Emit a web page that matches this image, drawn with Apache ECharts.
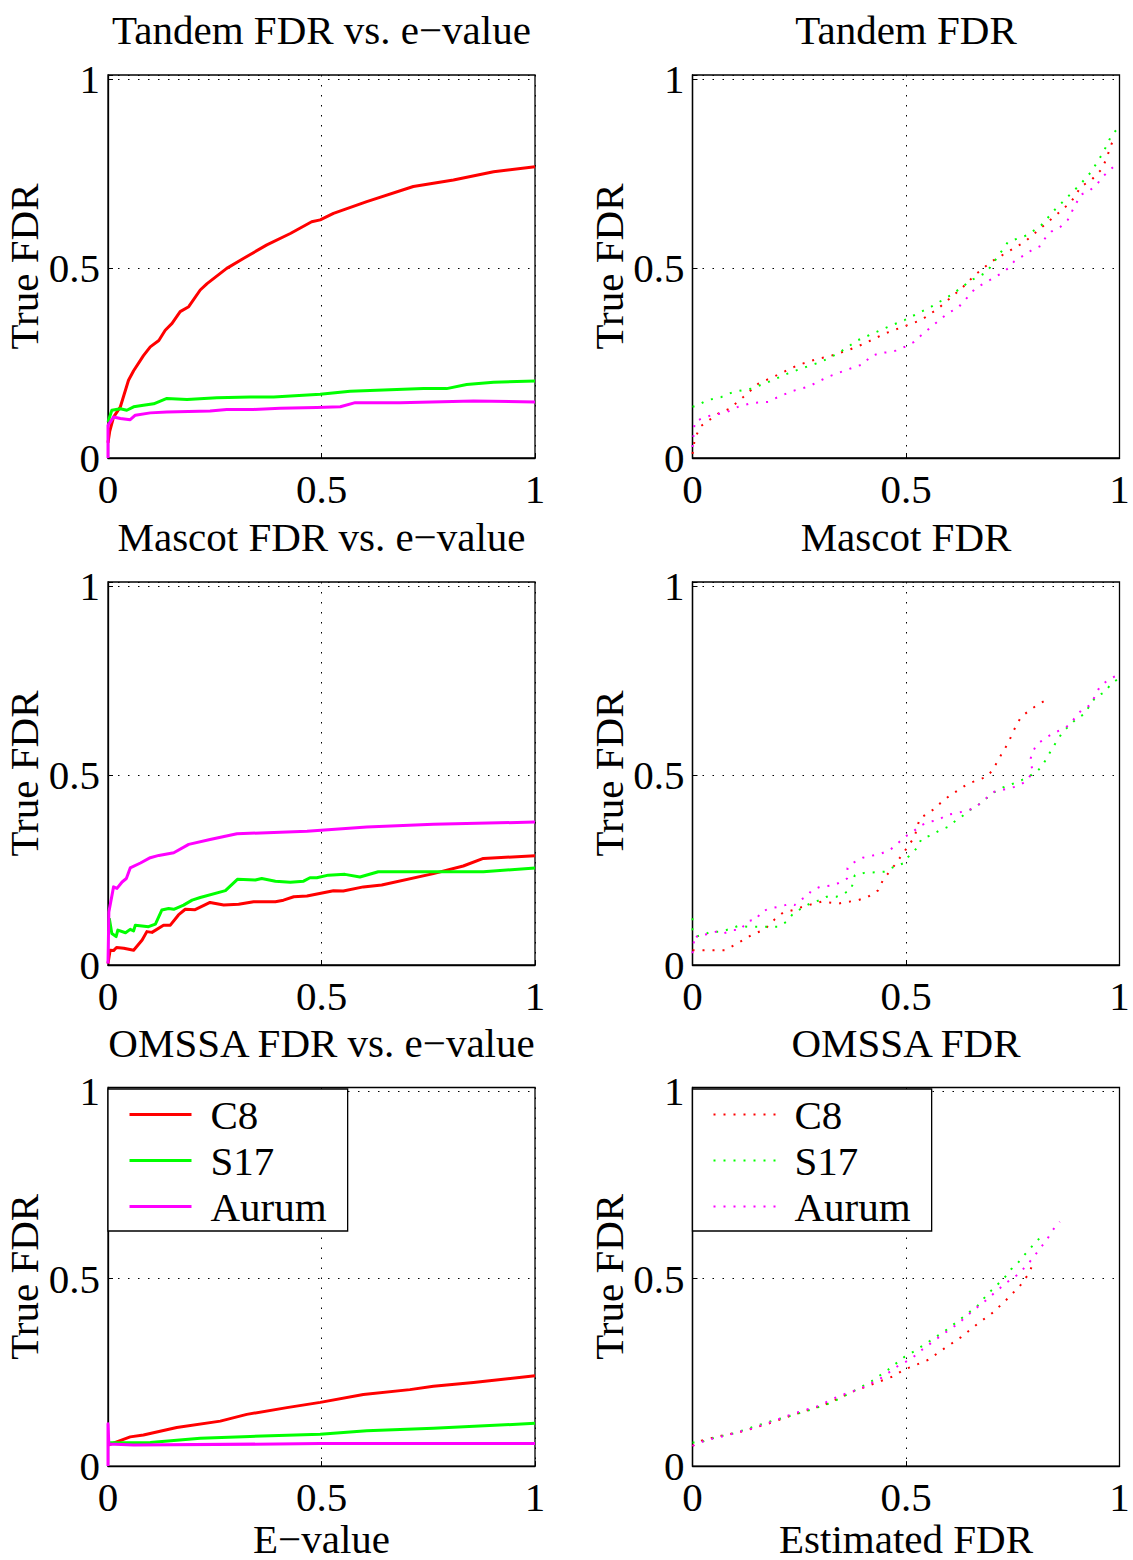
<!DOCTYPE html>
<html>
<head>
<meta charset="utf-8">
<script src="https://cdn.jsdelivr.net/npm/echarts@6/dist/echarts.min.js"></script>
<style>
html,body{margin:0;padding:0;background:#fff;}
#chart{width:1133px;height:1560px;}
</style>
</head>
<body>
<div id="chart"></div>
<script>
// ---------- DATA ----------
const seriesNames = ['C8', 'S17', 'Aurum'];
const panelTitles = ['Tandem FDR vs. e\u2212value', 'Tandem FDR', 'Mascot FDR vs. e\u2212value', 'Mascot FDR', 'OMSSA FDR vs. e\u2212value', 'OMSSA FDR'];
const xAxisNames = ['E\u2212value', 'Estimated FDR'];
const yAxisName = 'True FDR';
const tickLabels = ['0', '0.5', '1'];

// Tandem, true FDR vs e-value
const tandemEvC8 = [[0,0.04],[0.004,0.07],[0.013,0.108],[0.029,0.135],[0.048,0.205],[0.06,0.23],[0.083,0.27],[0.099,0.293],[0.119,0.31],[0.134,0.337],[0.15,0.355],[0.169,0.386],[0.189,0.399],[0.216,0.443],[0.232,0.46],[0.278,0.5],[0.317,0.526],[0.372,0.562],[0.427,0.592],[0.477,0.623],[0.497,0.628],[0.528,0.645],[0.606,0.676],[0.715,0.716],[0.809,0.733],[0.903,0.755],[1,0.768]];
const tandemEvS17 = [[0,0.095],[0.009,0.126],[0.029,0.13],[0.044,0.126],[0.06,0.135],[0.083,0.139],[0.107,0.143],[0.138,0.157],[0.185,0.154],[0.255,0.159],[0.333,0.161],[0.388,0.161],[0.497,0.168],[0.567,0.176],[0.645,0.179],[0.739,0.183],[0.793,0.183],[0.84,0.194],[0.903,0.2],[1,0.203]];
const tandemEvAurum = [[0,0],[0,0.086],[0.013,0.108],[0.029,0.104],[0.052,0.101],[0.064,0.113],[0.099,0.119],[0.138,0.121],[0.239,0.124],[0.278,0.128],[0.341,0.128],[0.403,0.131],[0.489,0.133],[0.544,0.135],[0.579,0.146],[0.684,0.146],[0.856,0.15],[1,0.148]];

// Tandem, true FDR vs estimated FDR
const tandemFdrC8 = [[0,0.011],[0.005,0.047],[0.017,0.082],[0.06,0.117],[0.087,0.13],[0.119,0.161],[0.154,0.196],[0.197,0.218],[0.247,0.245],[0.294,0.262],[0.317,0.267],[0.364,0.284],[0.403,0.302],[0.45,0.328],[0.493,0.346],[0.536,0.364],[0.575,0.394],[0.63,0.447],[0.661,0.482],[0.7,0.518],[0.739,0.544],[0.778,0.57],[0.801,0.592],[0.833,0.623],[0.852,0.641],[0.887,0.676],[0.91,0.716],[0.934,0.733],[0.957,0.76],[0.971,0.792],[0.977,0.817],[0.99,0.85]];
const tandemFdrS17 = [[0,0.135],[0.013,0.139],[0.033,0.152],[0.068,0.161],[0.095,0.174],[0.138,0.183],[0.177,0.2],[0.224,0.223],[0.255,0.236],[0.302,0.254],[0.341,0.276],[0.388,0.311],[0.458,0.346],[0.497,0.364],[0.559,0.399],[0.606,0.43],[0.653,0.469],[0.688,0.489],[0.715,0.531],[0.739,0.57],[0.785,0.588],[0.817,0.614],[0.848,0.654],[0.879,0.689],[0.91,0.724],[0.934,0.755],[0.961,0.804],[0.98,0.848],[0.996,0.87]];
const tandemFdrAurum = [[0,0.029],[0.005,0.095],[0.021,0.104],[0.048,0.114],[0.076,0.119],[0.107,0.135],[0.138,0.145],[0.177,0.148],[0.193,0.157],[0.232,0.176],[0.271,0.188],[0.317,0.214],[0.36,0.232],[0.403,0.249],[0.415,0.267],[0.439,0.277],[0.459,0.279],[0.481,0.284],[0.519,0.306],[0.536,0.324],[0.555,0.342],[0.583,0.368],[0.6,0.384],[0.62,0.394],[0.637,0.415],[0.662,0.447],[0.682,0.46],[0.704,0.474],[0.723,0.487],[0.739,0.5],[0.754,0.519],[0.774,0.533],[0.793,0.547],[0.815,0.559],[0.824,0.577],[0.84,0.597],[0.862,0.61],[0.879,0.628],[0.889,0.651],[0.909,0.694],[0.93,0.705],[0.948,0.723],[0.961,0.742],[0.98,0.762],[0.996,0.779]];

// Mascot, true FDR vs e-value
const mascotEvC8 = [[0,0.004],[0.005,0.039],[0.013,0.038],[0.02,0.046],[0.037,0.044],[0.06,0.039],[0.08,0.066],[0.091,0.088],[0.103,0.086],[0.13,0.105],[0.146,0.105],[0.165,0.132],[0.181,0.147],[0.204,0.146],[0.239,0.165],[0.271,0.158],[0.306,0.16],[0.341,0.167],[0.392,0.167],[0.411,0.171],[0.435,0.18],[0.466,0.182],[0.528,0.196],[0.551,0.195],[0.598,0.206],[0.641,0.211],[0.762,0.241],[0.832,0.261],[0.879,0.281],[1,0.288]];
const mascotEvS17 = [[0.003,0.123],[0.009,0.083],[0.019,0.075],[0.023,0.092],[0.041,0.085],[0.052,0.094],[0.06,0.09],[0.064,0.105],[0.095,0.101],[0.111,0.108],[0.126,0.145],[0.142,0.149],[0.154,0.147],[0.177,0.158],[0.197,0.171],[0.216,0.178],[0.275,0.196],[0.303,0.226],[0.345,0.224],[0.36,0.228],[0.392,0.221],[0.427,0.218],[0.458,0.221],[0.473,0.23],[0.489,0.23],[0.516,0.237],[0.555,0.239],[0.59,0.232],[0.633,0.246],[0.762,0.246],[0.879,0.246],[1,0.256]];
const mascotEvAurum = [[0,0.004],[0.002,0.14],[0.013,0.206],[0.021,0.202],[0.033,0.219],[0.043,0.228],[0.052,0.256],[0.076,0.269],[0.099,0.283],[0.119,0.289],[0.154,0.296],[0.189,0.318],[0.239,0.331],[0.302,0.346],[0.466,0.353],[0.606,0.364],[0.762,0.371],[1,0.377]];

// Mascot, true FDR vs estimated FDR
const mascotFdrC8 = [[0,0.039],[0.029,0.039],[0.076,0.039],[0.099,0.053],[0.119,0.066],[0.138,0.079],[0.169,0.094],[0.193,0.121],[0.212,0.138],[0.236,0.145],[0.259,0.154],[0.302,0.167],[0.341,0.162],[0.388,0.171],[0.411,0.18],[0.435,0.197],[0.446,0.224],[0.473,0.263],[0.493,0.294],[0.52,0.338],[0.532,0.386],[0.567,0.412],[0.587,0.434],[0.606,0.449],[0.645,0.478],[0.688,0.496],[0.704,0.515],[0.715,0.539],[0.739,0.585],[0.758,0.632],[0.77,0.655],[0.789,0.671],[0.805,0.684],[0.824,0.696]];
const mascotFdrS17 = [[0,0.123],[0,0.092],[0.009,0.075],[0.033,0.083],[0.041,0.088],[0.068,0.088],[0.087,0.095],[0.107,0.103],[0.13,0.101],[0.2,0.101],[0.22,0.114],[0.236,0.136],[0.255,0.149],[0.275,0.162],[0.298,0.171],[0.314,0.18],[0.337,0.18],[0.356,0.189],[0.372,0.2],[0.376,0.219],[0.38,0.237],[0.403,0.243],[0.45,0.246],[0.462,0.254],[0.473,0.259],[0.493,0.268],[0.505,0.285],[0.528,0.311],[0.536,0.333],[0.559,0.342],[0.579,0.355],[0.598,0.364],[0.618,0.382],[0.629,0.39],[0.649,0.408],[0.668,0.421],[0.688,0.439],[0.704,0.454],[0.727,0.468],[0.75,0.478],[0.77,0.487],[0.789,0.498],[0.805,0.509],[0.817,0.522],[0.829,0.544],[0.84,0.566],[0.854,0.592],[0.867,0.614],[0.883,0.632],[0.899,0.649],[0.918,0.662],[0.93,0.684],[0.945,0.708],[0.965,0.719],[0.98,0.741],[1,0.757]];
const mascotFdrAurum = [[0,0.031],[0.005,0.079],[0.013,0.073],[0.037,0.083],[0.056,0.088],[0.072,0.083],[0.095,0.092],[0.111,0.092],[0.13,0.116],[0.15,0.12],[0.16,0.14],[0.181,0.149],[0.204,0.154],[0.228,0.161],[0.239,0.158],[0.255,0.173],[0.271,0.184],[0.278,0.196],[0.298,0.206],[0.333,0.211],[0.362,0.228],[0.363,0.256],[0.376,0.269],[0.399,0.283],[0.419,0.288],[0.442,0.294],[0.462,0.303],[0.481,0.321],[0.497,0.338],[0.516,0.351],[0.532,0.366],[0.551,0.377],[0.575,0.382],[0.594,0.395],[0.618,0.401],[0.641,0.406],[0.661,0.415],[0.68,0.432],[0.704,0.456],[0.739,0.465],[0.762,0.472],[0.785,0.487],[0.797,0.513],[0.79,0.538],[0.797,0.563],[0.807,0.583],[0.824,0.596],[0.844,0.611],[0.867,0.622],[0.881,0.632],[0.91,0.671],[0.932,0.686],[0.953,0.732],[0.971,0.75],[0.992,0.763],[1,0.76]];

// OMSSA, true FDR vs e-value
const omssaEvC8 = [[0,0.056],[0.052,0.078],[0.083,0.083],[0.161,0.103],[0.263,0.12],[0.325,0.138],[0.419,0.156],[0.497,0.17],[0.598,0.191],[0.707,0.204],[0.762,0.213],[0.856,0.223],[1,0.241]];
const omssaEvS17 = [[0,0.062],[0.099,0.063],[0.216,0.074],[0.333,0.079],[0.497,0.085],[0.606,0.094],[0.762,0.101],[1,0.114]];
const omssaEvAurum = [[0,0],[0,0.113],[0.002,0.059],[0.06,0.056],[0.497,0.06],[1,0.06]];

// OMSSA, true FDR vs estimated FDR
const omssaFdrC8 = [[0,0.054],[0.021,0.068],[0.06,0.079],[0.122,0.094],[0.185,0.116],[0.239,0.138],[0.31,0.164],[0.372,0.197],[0.427,0.221],[0.469,0.239],[0.497,0.258],[0.513,0.265],[0.551,0.283],[0.59,0.314],[0.629,0.344],[0.668,0.38],[0.704,0.41],[0.739,0.448],[0.77,0.485],[0.789,0.516],[0.8,0.55]];
const omssaFdrS17 = [[0,0.063],[0.017,0.063],[0.052,0.076],[0.099,0.088],[0.138,0.103],[0.185,0.12],[0.232,0.135],[0.278,0.151],[0.325,0.169],[0.372,0.197],[0.419,0.226],[0.458,0.257],[0.497,0.292],[0.52,0.307],[0.559,0.336],[0.598,0.366],[0.633,0.397],[0.668,0.428],[0.692,0.46],[0.715,0.485],[0.731,0.503],[0.746,0.525],[0.762,0.542],[0.778,0.564],[0.805,0.599],[0.821,0.617]];
const omssaFdrAurum = [[0,0.054],[0.029,0.068],[0.076,0.081],[0.138,0.1],[0.185,0.118],[0.239,0.141],[0.294,0.16],[0.341,0.186],[0.396,0.208],[0.442,0.235],[0.481,0.267],[0.513,0.287],[0.536,0.309],[0.583,0.349],[0.622,0.38],[0.657,0.415],[0.688,0.443],[0.711,0.466],[0.735,0.489],[0.762,0.511],[0.785,0.538],[0.809,0.573],[0.821,0.591],[0.832,0.608],[0.844,0.63],[0.86,0.652]];

const panelData = [
  [tandemEvC8, tandemEvS17, tandemEvAurum],
  [tandemFdrC8, tandemFdrS17, tandemFdrAurum],
  [mascotEvC8, mascotEvS17, mascotEvAurum],
  [mascotFdrC8, mascotFdrS17, mascotFdrAurum],
  [omssaEvC8, omssaEvS17, omssaEvAurum],
  [omssaFdrC8, omssaFdrS17, omssaFdrAurum]
];

// ---------- STYLE / LAYOUT ----------
const colors = ['#ff0000', '#00ff00', '#ff00ff'];
const FONT = '"Liberation Serif", "Times New Roman", Times, serif';
const FS = 41;
const gridLefts = [108, 692.5];
const gridTops = [75, 582, 1087.5];
const gridW = 427, gridH = 383;
const yMax = 1.01;

const grids = [], xAxes = [], yAxes = [], series = [], graphics = [];
for (let p = 0; p < 6; p++) {
  const col = p % 2, row = Math.floor(p / 2);
  grids.push({left: gridLefts[col], top: gridTops[row], width: gridW, height: gridH,
    show: true, borderColor: '#000', borderWidth: 1.3, backgroundColor: 'transparent'});
  xAxes.push({
    gridIndex: p, type: 'value', min: 0, max: 1, interval: 0.5,
    name: row === 2 ? xAxisNames[col] : '', nameLocation: 'middle', nameGap: 47,
    nameTextStyle: {fontSize: FS, fontFamily: FONT, color: '#000'},
    axisLine: {show: true, onZero: false, lineStyle: {color: '#000', width: 1.3}},
    axisTick: {show: true, inside: true, length: 5, lineStyle: {color: '#000'}},
    axisLabel: {fontSize: FS, fontFamily: FONT, color: '#000', margin: 10,
      formatter: v => (v === 0 ? tickLabels[0] : v === 0.5 ? tickLabels[1] : v === 1 ? tickLabels[2] : '')},
    splitLine: {show: true, lineStyle: {color: '#000', width: 1, type: [1.5, 8.5]}}
  });
  yAxes.push({
    gridIndex: p, type: 'value', min: 0, max: yMax, interval: 0.5,
    name: yAxisName, nameLocation: 'middle', nameGap: 61, nameRotate: 90,
    nameTextStyle: {fontSize: FS, fontFamily: FONT, color: '#000'},
    axisLine: {show: true, onZero: false, lineStyle: {color: '#000', width: 1.3}},
    axisTick: {show: true, inside: true, length: 5, lineStyle: {color: '#000'}},
    axisLabel: {fontSize: FS, fontFamily: FONT, color: '#000', margin: 8,
      formatter: v => (v === 0 ? tickLabels[0] : v === 0.5 ? tickLabels[1] : v === 1 ? tickLabels[2] : '')},
    splitLine: {show: true, lineStyle: {color: '#000', width: 1, type: [1.5, 8.5]}}
  });
  const dotted = col === 1;
  panelData[p].forEach((d, i) => {
    series.push({
      type: 'line', name: seriesNames[i], xAxisIndex: p, yAxisIndex: p,
      data: d, symbol: 'none', showSymbol: false, animation: false, silent: true,
      clip: true,
      lineStyle: dotted ? {color: colors[i], width: 2, type: [2, 8]} : {color: colors[i], width: 3, join: 'round'},
      itemStyle: {color: colors[i]},
      z: 3
    });
  });
  graphics.push({
    type: 'text', x: gridLefts[col] + gridW / 2, y: gridTops[row] - 45,
    style: {text: panelTitles[p], fontSize: FS, fontFamily: FONT, fill: '#000',
      align: 'center', verticalAlign: 'middle'}
  });
}

function makeLegend(left, dotted) {
  const lg = {
    left: left, top: 1089, orient: 'vertical', data: seriesNames,
    itemWidth: 62, itemHeight: 14, itemGap: 5,
    padding: [5, 21, 4, 20],
    backgroundColor: '#fff', borderColor: '#000', borderWidth: 1.3, borderRadius: 0,
    selectedMode: false,
    itemStyle: {opacity: 0},
    textStyle: {fontSize: FS, fontFamily: FONT, color: '#000', lineHeight: 40, padding: [0, 0, 0, 14]},
    z: 10
  };
  if (dotted) lg.lineStyle = {type: [2, 8], width: 2, opacity: 1};
  else lg.lineStyle = {width: 3, opacity: 1};
  return lg;
}

const chart = echarts.init(document.getElementById('chart'), null, {renderer: 'svg'});
chart.setOption({
  backgroundColor: '#fff',
  animation: false,
  grid: grids,
  xAxis: xAxes,
  yAxis: yAxes,
  legend: [makeLegend(108, false), makeLegend(692.5, true)],
  graphic: graphics,
  series: series
});
</script>
</body>
</html>
